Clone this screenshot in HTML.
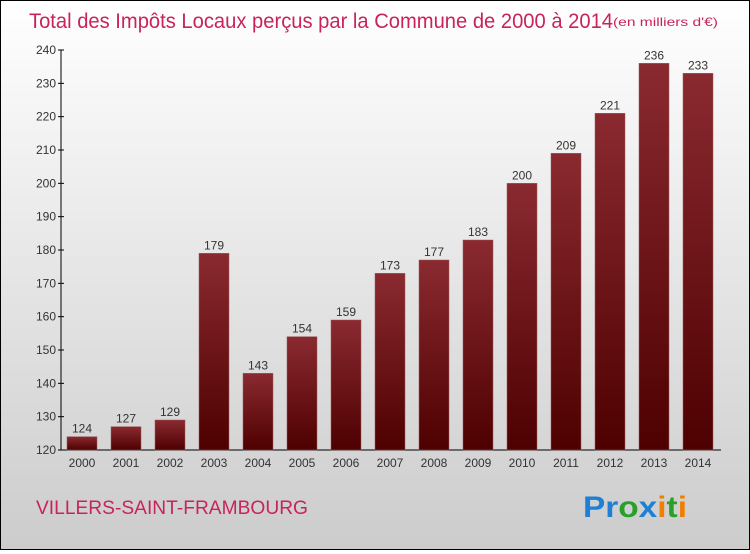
<!DOCTYPE html>
<html><head><meta charset="utf-8"><style>
body{margin:0}
#wrap{width:748px;height:548px;border:1px solid #000;background:linear-gradient(#fff,#ccc);position:relative;font-family:"Liberation Sans",sans-serif}
</style></head><body>
<div id="wrap">
<svg id="chart" width="748" height="548">
<defs><linearGradient id="bg" x1="0" y1="0" x2="0" y2="1"><stop offset="0" stop-color="#8a2a30"/><stop offset="1" stop-color="#4e0000"/></linearGradient></defs>
<text x="28" y="27" font-size="21" fill="#c8245a" textLength="584" lengthAdjust="spacingAndGlyphs">Total des Impôts Locaux perçus par la Commune de 2000 à 2014</text>
<text x="612" y="25" font-size="12" fill="#c8245a" textLength="105" lengthAdjust="spacingAndGlyphs">(en milliers d'€)</text>
<text x="35" y="513" font-size="19" fill="#c8245a" textLength="272" lengthAdjust="spacingAndGlyphs">VILLERS-SAINT-FRAMBOURG</text>
<text x="582" y="516" font-size="30" font-weight="bold" textLength="104" lengthAdjust="spacingAndGlyphs"><tspan fill="#1e7fd6">Pr</tspan><tspan fill="#2aa02a">o</tspan><tspan fill="#1e7fd6">x</tspan><tspan fill="#f07f00">i</tspan><tspan fill="#2aa02a">t</tspan><tspan fill="#f07f00">i</tspan></text>
<g id="g"></g>
</svg></div>
<script>
const years=["2000","2001","2002","2003","2004","2005","2006","2007","2008","2009","2010","2011","2012","2013","2014"];
const values=[124,127,129,179,143,154,159,173,177,183,200,209,221,236,233];
const yTicks=[120,130,140,150,160,170,180,190,200,210,220,230,240];
const NS="http://www.w3.org/2000/svg",g=document.getElementById('g');
const y=v=>449-(v-120)*(400/120), x=i=>81+i*44;
function mk(t,a,txt){const e=document.createElementNS(NS,t);for(const k in a)e.setAttribute(k,a[k]);if(txt!=null)e.textContent=txt;g.appendChild(e);return e;}
let e=mk('line',{x1:60,y1:49,x2:60,y2:449,stroke:'#000'});

e=mk('line',{x1:60,y1:449,x2:720,y2:449,stroke:'#000'});

yTicks.forEach(t=>{
 e=mk('line',{x1:57,y1:y(t),x2:63,y2:y(t),stroke:'#000'});
 
 e=mk('text',{x:55,y:y(t)+4,'font-size':12,'text-anchor':'end',fill:'#333'},t);
 
});
years.forEach((yr,i)=>{
 const v=values[i];
 e=mk('rect',{x:x(i)-15,y:y(v),width:30,height:449-y(v),fill:'url(#bg)',stroke:'#a05a5a','stroke-width':0.5});
 
 e=mk('text',{x:x(i),y:y(v)-4,'font-size':12,'text-anchor':'middle',fill:'#333'},v);
 
 e=mk('text',{x:x(i),y:466,'font-size':12,'text-anchor':'middle',fill:'#333'},yr);
 
});
</script>
</body></html>
